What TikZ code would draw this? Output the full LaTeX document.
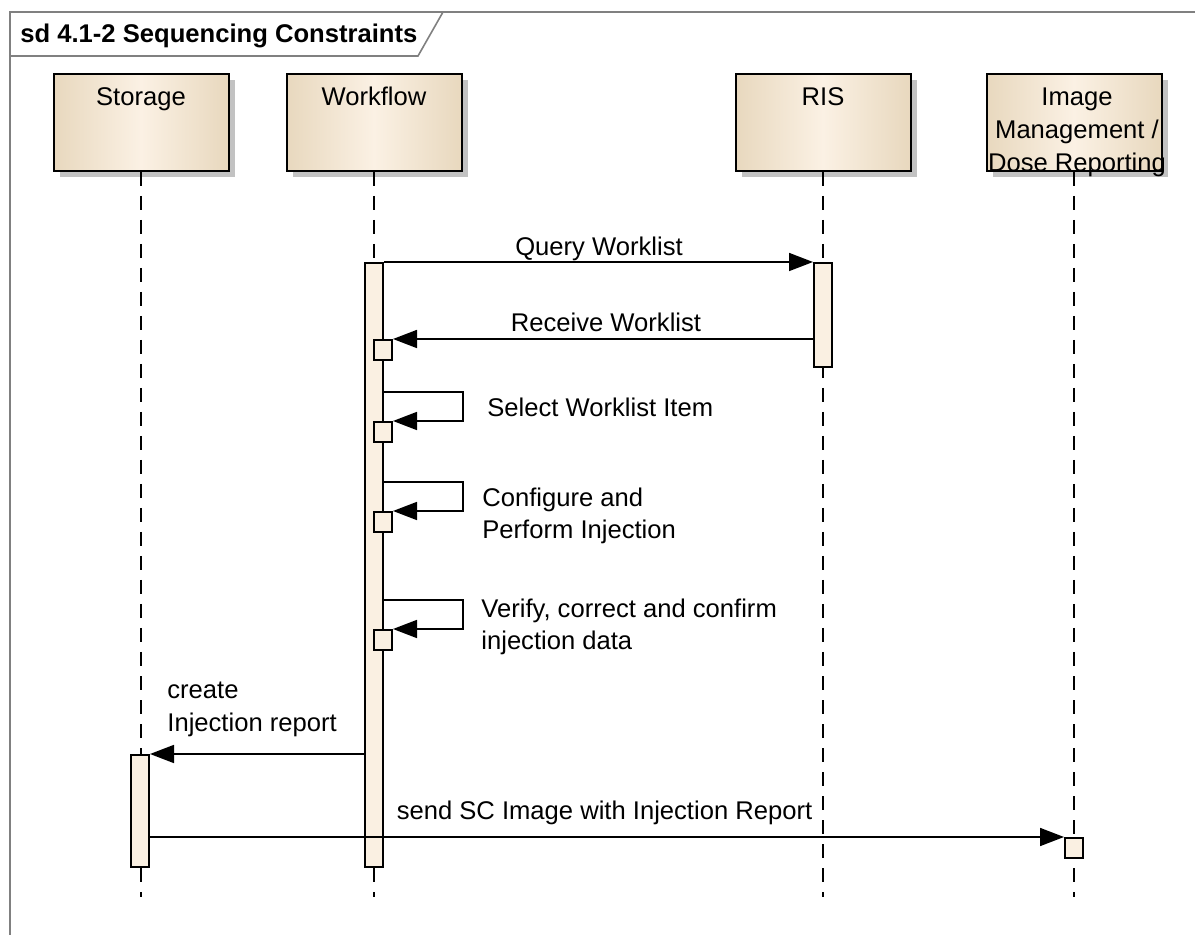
\documentclass[tikz,border=0pt]{standalone}
\usepackage{fontspec}
\setmainfont{Liberation Sans}
\usepackage{tikz}
\usetikzlibrary{positioning, arrows.meta, shadows}

\definecolor{boxedge}{HTML}{E8D8BE}
\definecolor{boxmid}{HTML}{FBF1E4}
\definecolor{barfill}{HTML}{FAF0E2}
\definecolor{framegray}{HTML}{808080}
\definecolor{shadowgray}{HTML}{C2C2C2}

\begin{document}
\begin{tikzpicture}[x=0.5pt, y=-0.5pt,
  font=\fontsize{12.8}{16.5}\selectfont,
  actor/.style={draw, line width=1pt, minimum width=87.5pt, minimum height=48.5pt,
    left color=boxedge, right color=boxedge, middle color=boxmid,
    drop shadow={shadow xshift=3pt, shadow yshift=-3pt, fill=shadowgray, opacity=1}},
  lifeline/.style={line width=1pt, dash pattern=on 7pt off 5pt},
  bar/.style={draw, line width=1pt, fill=barfill, minimum width=9pt, inner sep=0pt},
  exec/.style={draw, line width=1pt, fill=barfill, minimum width=9pt, minimum height=10pt, inner sep=0pt},
  msg/.style={line width=0.85pt, -{Triangle[length=12pt, width=9pt]}},
  msgtext/.style={inner sep=0pt, align=left}]
\useasboundingbox (0,0) rectangle (1195,935);

% frame
\draw[framegray, line width=0.8pt] (1195,12) -- (10,12) -- (10,935);
\draw[framegray, line width=0.8pt] (10,56) -- (418,56) -- (443,12);
\node[anchor=base west, inner sep=0pt, font=\fontsize{12.8}{16.5}\selectfont\bfseries] (title) at (20,43) {sd 4.1-2 Sequencing Constraints};

% participants
\node[actor] (storage) at (141,122.5) {};
\node[actor] (workflow) at (374,122.5) {};
\node[actor] (ris) at (823,122.5) {};
\node[actor] (imgmgmt) at (1074,122.5) {};
\node[anchor=base, inner sep=0pt] (storagename) at (141,106) {Storage};
\node[anchor=base, inner sep=0pt] (workflowname) at (374,106) {Workflow};
\node[anchor=base, inner sep=0pt] (risname) at (823,106) {RIS};
\node[anchor=base, inner sep=0pt, align=center] (imgmgmtname) at (1077,172) {Image\\Management /\\Dose Reporting};

% lifelines
\foreach \p in {storage, workflow, ris, imgmgmt}
  \draw[lifeline] (\p.south) -- (\p.south |- 0,897);

% activations
\node[bar, minimum height=302pt] (wfbar) at (374,565) {};
\node[bar, minimum height=52pt] (risbar) at (823,315) {};
\node[bar, minimum height=56pt] (stbar) at (140,811) {};
\node[exec] (rcv) at (383,350) {};
\node[exec] (sel) at (383,432) {};
\node[exec] (conf) at (383,522) {};
\node[exec] (ver) at (383,640) {};
\node[exec] (imbox) at (1074,848) {};

% messages
\draw[msg] (wfbar.north east) -- (risbar.north west);
\draw[msg] (risbar.west |- rcv.north) -- (rcv.north east);
\draw[msg] (wfbar.east |- 0,392) -- (463,392) |- (sel.north east);
\draw[msg] (wfbar.east |- 0,482) -- (463,482) |- (conf.north east);
\draw[msg] (wfbar.east |- 0,600) -- (463,600) |- (ver.north east);
\draw[msg] (wfbar.west |- stbar.north) -- (stbar.north east);
\draw[msg] (stbar.east |- imbox.north) -- (imbox.north west);

\node[msgtext, anchor=base] (querytext) at (599,256) {Query Worklist};
\node[msgtext, anchor=base] (rcvtext) at (606,332) {Receive Worklist};
\node[msgtext, anchor=base west] (seltext) at (487,417) {Select Worklist Item};
\node[msgtext, anchor=base west] (conftext) at (482,539) {Configure and\\Perform Injection};
\node[msgtext, anchor=base west] (vertext) at (481,650) {Verify, correct and confirm\\injection data};
\node[msgtext, anchor=base west] (createtext) at (167,731) {create\\Injection report};
\node[msgtext, anchor=base] (sendtext) at (604.5,819) {send SC Image with Injection Report};
\end{tikzpicture}
\end{document}
